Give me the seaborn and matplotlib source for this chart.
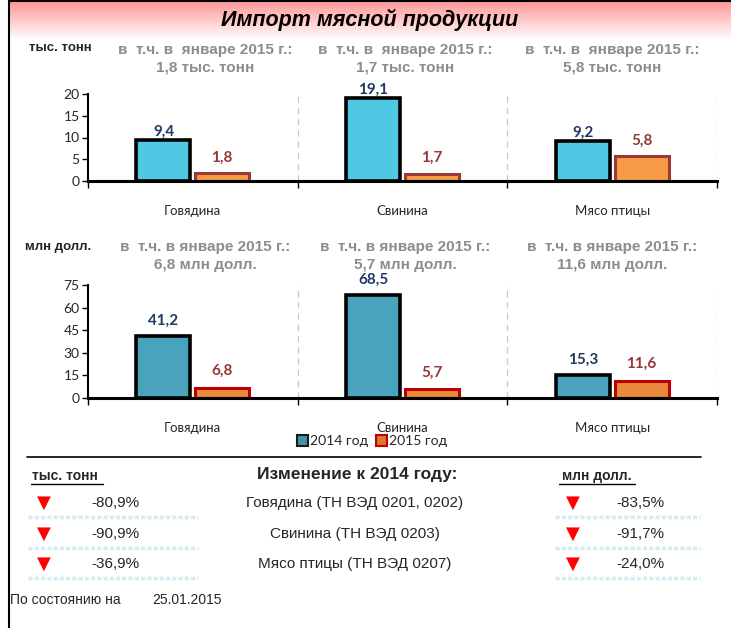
import numpy as np
import pandas as pd
import matplotlib
matplotlib.use("Agg")
import matplotlib.pyplot as plt
import seaborn as sns
from matplotlib.lines import Line2D
from matplotlib.patches import Rectangle

# ---------------- data ----------------
categories = ["Говядина", "Свинина", "Мясо птицы"]
years = ["2014 год", "2015 год"]
tons_2014 = [9.4, 19.1, 9.2]
tons_2015 = [1.8, 1.7, 5.8]
usd_2014 = [41.2, 68.5, 15.3]
usd_2015 = [6.8, 5.7, 11.6]
tons_notes = ["1,8 тыс. тонн", "1,7 тыс. тонн", "5,8 тыс. тонн"]
usd_notes = ["6,8 млн долл.", "5,7 млн долл.", "11,6 млн долл."]
tons_ticks = [0, 5, 10, 15, 20]
usd_ticks = [0, 15, 30, 45, 60, 75]
table_rows = ["Говядина (ТН ВЭД 0201, 0202)", "Свинина (ТН ВЭД 0203)", "Мясо птицы (ТН ВЭД 0207)"]
change_tons = ["-80,9%", "-90,9%", "-36,9%"]
change_usd = ["-83,5%", "-91,7%", "-24,0%"]

sns.set_theme(style="white")
plt.rcParams["font.family"] = ["Liberation Sans", "DejaVu Sans"]

W, H = 731, 628
fig = plt.figure(figsize=(W / 100, H / 100), dpi=100)
fig.patch.set_facecolor("white")

def fx(x):
    return x / W

def fy(y):
    return 1 - y / H

# title gradient band
gax = fig.add_axes([fx(9), fy(40), fx(722), 40 / H])
grad = np.linspace(0, 1, 100)
top = np.array([1.0, 0.58, 0.58])
img = np.zeros((100, 1, 3))
for i, g in enumerate(grad):
    img[i, 0] = top * (1 - g) + np.array([1, 1, 1]) * g
gax.imshow(img, aspect="auto", extent=[0, 1, 0, 1])
gax.axis("off")

# borders
fig.add_artist(Line2D([fx(8.5), fx(8.5)], [0, 1], color="black", lw=1.5))
fig.add_artist(Line2D([fx(8.5), 1], [fy(0.7), fy(0.7)], color="black", lw=1.5))

fig.text(fx(370), fy(20), "Импорт мясной продукции", ha="center", va="center",
         fontsize=15.5, fontweight="bold", style="italic", color="black")

def make_chart(y_top, y_bot, v14, v15, ticks, c14, e14, c15, e15, pad14, pad15):
    ax = fig.add_axes([fx(88), fy(y_bot), fx(717 - 88), (y_bot - y_top) / H])
    df = pd.DataFrame({
        "cat": categories * 2,
        "year": [years[0]] * 3 + [years[1]] * 3,
        "val": list(v14) + list(v15),
    })
    sns.barplot(data=df, x="cat", y="val", hue="year", order=categories,
                hue_order=years, palette=[c14, c15], width=0.56, gap=0.08,
                ax=ax, legend=False, saturation=1)
    cont14, cont15 = ax.containers[0], ax.containers[1]
    for p in cont14.patches:
        p.set_edgecolor(e14)
        p.set_linewidth(2.6)
    for p in cont15.patches:
        p.set_edgecolor(e15)
        p.set_linewidth(2.2)
    ax.bar_label(cont14, labels=[f"{v:.1f}".replace(".", ",") for v in v14],
                 padding=pad14, color="#1F3864", fontweight="bold", fontsize=11,
                 family=["Lato", "DejaVu Sans"])
    ax.bar_label(cont15, labels=[f"{v:.1f}".replace(".", ",") for v in v15],
                 padding=pad15, color="#953735", fontweight="bold", fontsize=11,
                 family=["Lato", "DejaVu Sans"])
    ax.set_xlim(-0.5, 2.5)
    ax.set_ylim(0, ticks[-1])
    ax.set_yticks(ticks)
    ax.set_yticklabels([str(t) for t in ticks], fontsize=10, family=["Lato", "DejaVu Sans"])
    ax.set_xticks([-0.5, 0.5, 1.5, 2.5])
    ax.set_xticklabels([])
    ax.set_xticks([0, 1, 2], minor=True)
    ax.set_xticklabels(categories, minor=True, fontsize=9.5, family=["Lato", "DejaVu Sans"])
    ax.tick_params(axis="x", which="major", length=5, width=1, color="black", direction="out", bottom=True)
    ax.tick_params(axis="x", which="minor", length=0, pad=17)
    ax.tick_params(axis="y", length=4, width=1, color="black", direction="out", left=True, pad=2)
    ax.set_xlabel("")
    ax.set_ylabel("")
    for x in [0.5, 1.5, 2.5]:
        ax.axvline(x, color="#C8C8C8", lw=0.9, ls=(0, (5, 4)), zorder=0)
    for s in ["top", "right"]:
        ax.spines[s].set_visible(False)
    ax.spines["bottom"].set_linewidth(2.2)
    ax.spines["bottom"].set_color("black")
    ax.spines["left"].set_linewidth(1.5)
    ax.spines["left"].set_color("black")
    ax.set_facecolor("none")
    ax.grid(False)
    return ax

make_chart(94, 181, tons_2014, tons_2015, tons_ticks,
           "#4FC9E3", "black", "#F79A45", "#9B3A35", 1, 6)
make_chart(285, 398, usd_2014, usd_2015, usd_ticks,
           "#4AA3BD", "black", "#E8893C", "#C00000", 6, 7)

# header annotations
narrow = ["Liberation Sans Narrow", "Liberation Sans", "DejaVu Sans"]
fig.text(fx(60), fy(48), "тыс. тонн", ha="center", va="center", fontsize=9.5,
         fontweight="bold", family=narrow)
fig.text(fx(58), fy(247), "млн долл.", ha="center", va="center", fontsize=9.5,
         fontweight="bold", family=narrow)
centers = [205, 405, 612]
for cx, note in zip(centers, tons_notes):
    fig.text(fx(cx), fy(59), "в  т.ч. в  январе 2015 г.:\n" + note, ha="center",
             va="center", fontsize=11, fontweight="bold", color="#8C8C8C",
             family=narrow, linespacing=1.35)
for cx, note in zip(centers, usd_notes):
    fig.text(fx(cx), fy(256), "в  т.ч. в январе 2015 г.:\n" + note, ha="center",
             va="center", fontsize=11, fontweight="bold", color="#8C8C8C",
             family=narrow, linespacing=1.35)

# legend
handles = [Rectangle((0, 0), 1, 1, facecolor="#3E93AE", edgecolor="#1A1A1A", lw=1.5),
           Rectangle((0, 0), 1, 1, facecolor="#D9782F", edgecolor="#C00000", lw=1.5)]
fig.legend(handles, years, loc="center", bbox_to_anchor=(fx(372), fy(441)), ncol=2,
           frameon=False, handlelength=0.8, handleheight=0.8,
           handletextpad=0.15, columnspacing=0.6,
           prop={"family": ["Lato", "DejaVu Sans"], "size": 10})

# bottom table
fig.add_artist(Line2D([fx(27), fx(701)], [fy(457), fy(457)], color="black", lw=1.2))
fig.text(fx(65), fy(476), "тыс. тонн", ha="center", va="center", fontsize=10,
         fontweight="bold", family=narrow)
fig.add_artist(Line2D([fx(31), fx(103)], [fy(484), fy(484)], color="black", lw=1))
fig.text(fx(357), fy(474), "Изменение к 2014 году:", ha="center", va="center",
         fontsize=12.5, fontweight="bold", family=narrow)
fig.text(fx(597), fy(476), "млн долл.", ha="center", va="center", fontsize=10,
         fontweight="bold", family=narrow)
fig.add_artist(Line2D([fx(559), fx(635)], [fy(484), fy(484)], color="black", lw=1))

row_y = [503, 534, 564]
for ry, name, ct, cu in zip(row_y, table_rows, change_tons, change_usd):
    fig.text(fx(44), fy(ry), "▼", ha="center", va="center", fontsize=13, color="#FF0000",
             family=["DejaVu Sans"])
    fig.text(fx(573), fy(ry), "▼", ha="center", va="center", fontsize=13, color="#FF0000",
             family=["DejaVu Sans"])
    fig.text(fx(115), fy(ry), ct, ha="center", va="center", fontsize=11, family=narrow)
    fig.text(fx(640), fy(ry), cu, ha="center", va="center", fontsize=11, family=narrow)
    fig.text(fx(355), fy(ry), name, ha="center", va="center", fontsize=11, family=narrow)
    for x0, x1 in [(28, 198), (555, 700)]:
        fig.add_artist(Line2D([fx(x0), fx(x1)], [fy(ry + 14), fy(ry + 14)],
                              color="#D6EAF2", lw=2.5, ls=(0, (1.2, 0.6))))

fig.text(fx(10), fy(600), "По состоянию на", ha="left", va="center", fontsize=10, family=narrow)
fig.text(fx(152), fy(600), "25.01.2015", ha="left", va="center", fontsize=10, family=narrow)

fig.savefig("out.png", dpi=100)
